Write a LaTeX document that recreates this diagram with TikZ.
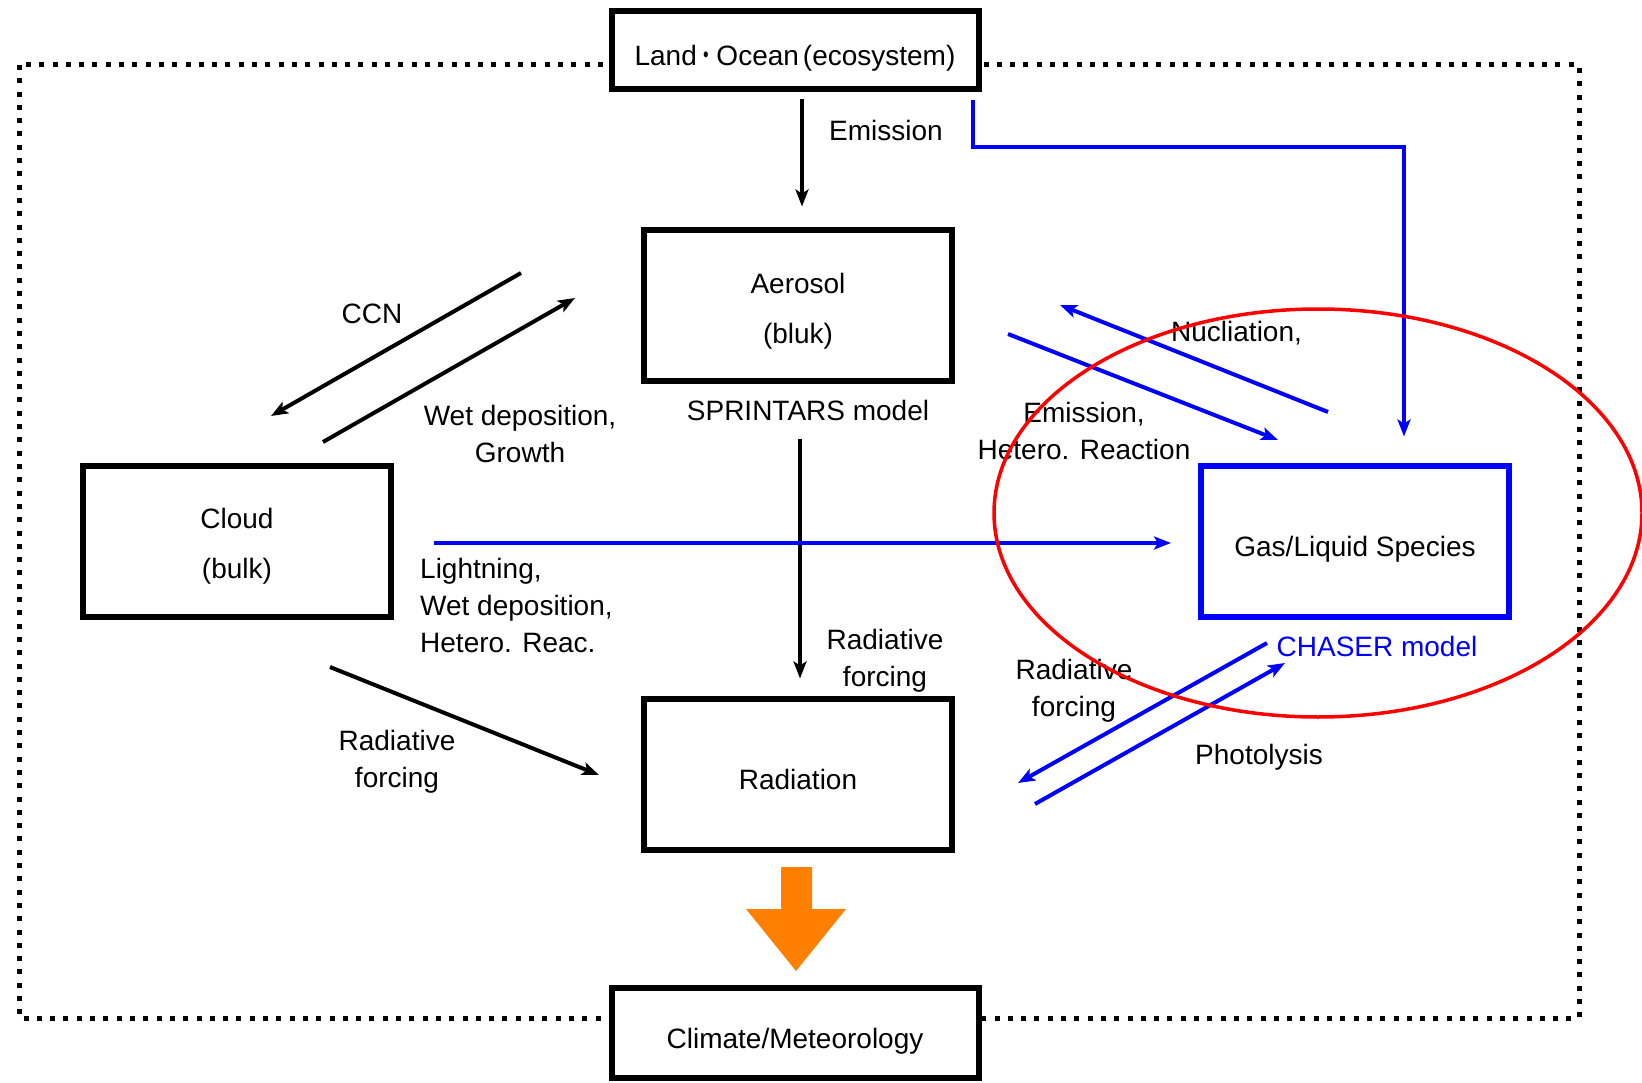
\documentclass[tikz,border=0pt]{standalone}
\usepackage{fontspec}
\setmainfont{Liberation Sans}
\newfontfamily\cjk{Noto Sans CJK JP}
\usetikzlibrary{arrows.meta,positioning}
\definecolor{chaserBlue}{RGB}{0,0,255}
\definecolor{climOrange}{RGB}{255,128,0}
\tikzset{
  box/.style={rectangle, draw=black, line width=6pt, fill=white, inner sep=0pt,
              minimum width=308pt, minimum height=151pt, align=center},
  oneLine/.style={text height=31pt, text depth=0pt},
  twoLine/.style={text height=75pt, text depth=0pt},
  wideBox/.style={box, minimum width=367pt},
  blueBox/.style={box, draw=chaserBlue},
  lbl/.style={inner sep=0pt, align=center},
  solidArrow/.style={-{Stealth[length=17pt,width=13pt,inset=4pt]}, line width=4pt},
  blueArrow/.style={solidArrow, color=chaserBlue},
  frameLine/.style={line width=5pt, dash pattern=on 5pt off 8.3pt}
}

\begin{document}
\begin{tikzpicture}[x=1pt, y=-1pt, font=\fontsize{28}{37}\selectfont]
\useasboundingbox (0,0) rectangle (1642,1083);

% Dotted frame
\draw[frameLine] (19,65) rectangle (1579,1018);

% Top and bottom boxes
\node[wideBox, oneLine, minimum height=78pt] (land) at (795,50)
  {Land\scalebox{0.7}[1]{\cjk ・}Ocean\kern4pt(ecosystem)};
\node[wideBox, oneLine, minimum height=90pt] (climate) at (795,1033) {Climate/Meteorology};

% Middle boxes
\node[box, twoLine] (aerosol) at (798,306) {Aerosol\\[13pt](bluk)};
\node[box, twoLine] (cloud) at (237,541) {Cloud\\[13pt](bulk)};
\node[blueBox, oneLine] (gas) at (1355,541) {Gas/Liquid Species};
\node[box, oneLine] (radiation) at (798,774) {Radiation};

% Model names
\node[lbl] (sprintars) at (808,410) {SPRINTARS model};
\node[lbl, text=chaserBlue] (chaser) at (1377,646) {CHASER model};

% Arrow ends
\coordinate (blueTop) at (973,100);
\coordinate (ccnA) at (521,273);
\coordinate (ccnB) at (271,416);
\coordinate (wetA) at (323,442);
\coordinate (wetB) at (575,298);
\coordinate (radA) at (330,667);
\coordinate (radB) at (599,775);
\coordinate (nucA) at (1328,412);
\coordinate (nucB) at (1060,305);
\coordinate (hetA) at (1008,334);
\coordinate (hetB) at (1278,440);
\coordinate (rfA) at (1267,643);
\coordinate (rfB) at (1018,783);
\coordinate (phoA) at (1035,804);
\coordinate (phoB) at (1285,663);

% Black arrows
\draw[solidArrow, shorten <=7pt, shorten >=21pt] ([xshift=7pt]land.south) -- ([xshift=4pt]aerosol.north);
\draw[solidArrow, shorten <=54pt, shorten >=17pt] ([xshift=2pt]aerosol.south) -- ([xshift=2pt]radiation.north);
\draw[solidArrow] (ccnA) -- (ccnB);
\draw[solidArrow] (wetA) -- (wetB);
\draw[solidArrow] (radA) -- (radB);

% Blue arrows
\draw[blueArrow, shorten >=26pt] (blueTop) -- ++(0,47) -| ([xshift=49pt]gas.north);
\draw[blueArrow, shorten <=40pt, shorten >=27pt] ([yshift=-2pt]cloud.east) -- ([yshift=-2pt]gas.west);
\draw[blueArrow] (nucA) -- (nucB);
\draw[blueArrow] (hetA) -- (hetB);
\draw[blueArrow] (rfA) -- (rfB);
\draw[blueArrow] (phoA) -- (phoB);

% Labels
\node[lbl] (emisLbl) at (886,130) {Emission};
\node[lbl] (ccnLbl) at (372,314) {CCN};
\node[lbl] (wetLbl) at (520,434) {Wet deposition,\\Growth};
\node[lbl, anchor=west, align=left] (lightLbl) at (420,605) {Lightning,\\Wet deposition,\\Hetero. Reac.};
\node[lbl] (rfMidLbl) at (885,661) {Radiative\\forcing};
\node[lbl] (rfLeftLbl) at (397,762) {Radiative\\forcing};
\node[lbl, anchor=west] (nucLbl) at (1171,333) {Nucliation,};
\node[lbl] (hetLbl) at (1084,431) {Emission,\\Hetero. Reaction};
\node[lbl] (rfRightLbl) at (1074,691) {Radiative\\forcing};
\node[lbl] (phoLbl) at (1259,757) {Photolysis};

% Orange arrow
\fill[climOrange] (781,867) -- (812,867) -- (812,909) -- (846,909) -- (796,971)
  -- (746,909) -- (781,909) -- cycle;

% Red ellipse
\draw[red, line width=3.5pt] (1318,513) ellipse [x radius=324pt, y radius=204pt];

\end{tikzpicture}
\end{document}
